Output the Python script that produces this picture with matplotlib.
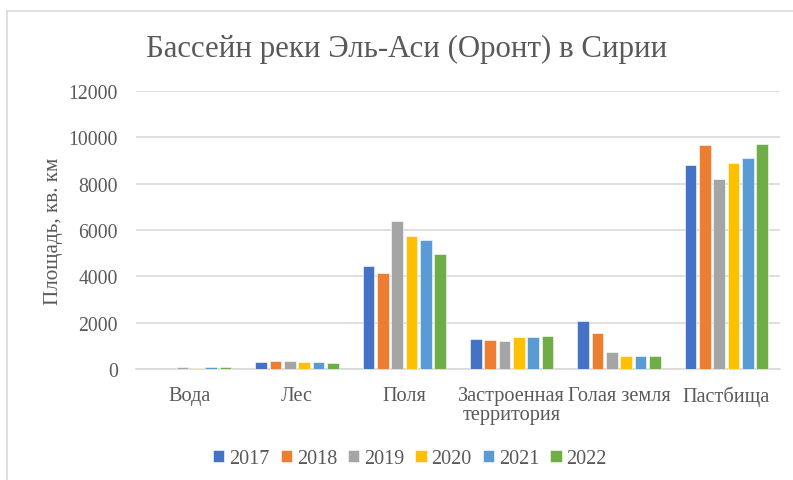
import matplotlib
matplotlib.use("Agg")
import matplotlib.pyplot as plt
import numpy as np

categories = ["Вода", "Лес", "Поля", "Застроенная\nтерритория", "Голая земля", "Пастбища"]
years = ["2017", "2018", "2019", "2020", "2021", "2022"]
v2017 = [0, 310, 4460, 1300, 2060, 8790]
v2018 = [0, 355, 4130, 1260, 1550, 9660]
v2019 = [70, 355, 6370, 1220, 725, 8200]
v2020 = [60, 310, 5740, 1360, 580, 8880]
v2021 = [70, 310, 5550, 1360, 580, 9100]
v2022 = [70, 270, 4960, 1405, 580, 9710]
series = [v2017, v2018, v2019, v2020, v2021, v2022]
colors = ["#4472C4", "#ED7D31", "#A5A5A5", "#FFC000", "#5B9BD5", "#70AD47"]
yticks = [0, 2000, 4000, 6000, 8000, 10000, 12000]

plt.rcParams['font.family'] = ['Liberation Serif', 'DejaVu Serif']
txt = "#595959"

fig = plt.figure(figsize=(7.93, 4.81), dpi=100)
ax = fig.add_axes([136/793, 1-370/481, (780-136)/793, (370-92)/481])

x = np.arange(len(categories))
step = 0.133
width = 0.109
for i, (vals, c, yr) in enumerate(zip(series, colors, years)):
    ax.bar(x + (i - 2.5) * step, vals, width, color=c, label=yr, zorder=3,
           edgecolor="white", linewidth=0.4)

ax.set_xlim(-0.5, len(categories) - 0.5)
ax.set_ylim(0, 12000)
ax.set_yticks(yticks)
ax.set_yticklabels([str(t) for t in yticks], fontsize=14.2, color=txt)
ax.set_xticks(x)
ax.set_xticklabels(categories, fontsize=14.6, color=txt, linespacing=1.0)
ax.tick_params(axis='y', length=0, pad=13)
ax.tick_params(axis='x', length=0, pad=12)
ax.grid(axis='y', color="#D9D9D9", linewidth=1.2, zorder=0)
for s in ["top", "right", "left"]:
    ax.spines[s].set_visible(False)
ax.spines["bottom"].set_color("#D9D9D9")
ax.spines["bottom"].set_linewidth(1.2)
ax.set_ylabel("Площадь, кв. км", fontsize=15.2, color=txt, labelpad=4)

fig.text(407/793, 1-49/481, "Бассейн реки Эль-Аси (Оронт) в Сирии", ha="center", va="center",
         fontsize=22.2, color=txt)

leg = fig.legend(loc="center", bbox_to_anchor=(410/793, 1-460/481), ncol=6, frameon=False,
                 fontsize=14.5, handlelength=0.55, handleheight=0.55, handletextpad=0.25,
                 columnspacing=0.55, labelcolor=txt)

# chart border
fig.add_artist(plt.Line2D([7/793, 7/793], [0, 1-12/481], color="#D9D9D9", linewidth=1.2))
fig.add_artist(plt.Line2D([7/793, 1], [1-12/481, 1-12/481], color="#D9D9D9", linewidth=1.2))

fig.savefig("out.png", dpi=100, facecolor="white")
